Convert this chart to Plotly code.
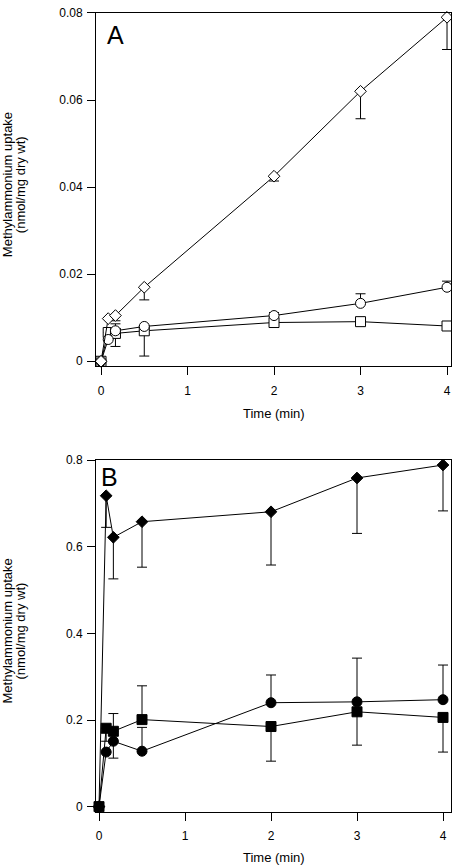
import plotly.graph_objects as go

# ---- data ----
time_min = [0, 0.083, 0.167, 0.5, 2, 3, 4]

# Panel A (open symbols)
a_diamond = [0, 0.0098, 0.0105, 0.0170, 0.0425, 0.0620, 0.0790]
a_diamond_lo = [0, 0, 0.0012, 0.0029, 0.0011, 0.0063, 0.0074]
a_circle = [0, 0.0050, 0.0070, 0.0080, 0.0105, 0.0133, 0.0170]
a_circle_hi = [0, 0, 0.0016, 0, 0.0007, 0.0022, 0.0014]
a_square = [0, 0.0066, 0.0064, 0.0070, 0.0089, 0.0091, 0.0081]
a_square_lo = [0, 0, 0.0030, 0.0058, 0.0004, 0, 0]

# Panel B (filled symbols)
b_diamond = [0, 0.718, 0.622, 0.658, 0.681, 0.759, 0.789]
b_diamond_lo = [0, 0.073, 0.096, 0.105, 0.123, 0.128, 0.106]
b_circle = [0, 0.126, 0.151, 0.128, 0.240, 0.242, 0.247]
b_circle_hi = [0, 0, 0, 0.055, 0.064, 0.101, 0.080]
b_circle_lo = [0, 0, 0.039, 0, 0, 0, 0]
b_square = [0, 0.181, 0.174, 0.201, 0.185, 0.219, 0.206]
b_square_hi = [0, 0, 0.041, 0.078, 0, 0, 0]
b_square_lo = [0, 0.030, 0, 0, 0.080, 0.077, 0.080]

x_ticks = [0, 1, 2, 3, 4]
a_yticks = [0, 0.02, 0.04, 0.06, 0.08]
a_yticklabels = ["0", "0.02", "0.04", "0.06", "0.08"]
b_yticks = [0, 0.2, 0.4, 0.6, 0.8]
b_yticklabels = ["0", "0.2", "0.4", "0.6", "0.8"]

ytitle_line1 = "Methylammonium uptake"
ytitle_line2 = "(nmol/mg dry wt)"
xtitle = "Time (min)"

zeros = [0] * len(time_min)
FONT = "Liberation Sans, Arial, sans-serif"


def trace(y, hi, lo, symbol, size, fill, xa, ya):
    return go.Scatter(
        x=time_min, y=y, mode="lines+markers",
        line=dict(color="black", width=1),
        marker=dict(symbol=symbol, size=size, color=fill,
                    line=dict(color="black", width=1)),
        error_y=dict(type="data", symmetric=False, array=hi, arrayminus=lo,
                     color="black", thickness=1, width=5),
        xaxis=xa, yaxis=ya, showlegend=False, cliponaxis=False,
    )


fig = go.Figure()
fig.add_trace(trace(a_square, zeros, a_square_lo, "square", 10, "white", "x", "y"))
fig.add_trace(trace(a_circle, a_circle_hi, zeros, "circle", 10, "white", "x", "y"))
fig.add_trace(trace(a_diamond, zeros, a_diamond_lo, "diamond", 9, "white", "x", "y"))

fig.add_trace(trace(b_diamond, zeros, b_diamond_lo, "diamond", 9, "black", "x2", "y2"))
fig.add_trace(trace(b_circle, b_circle_hi, b_circle_lo, "circle", 10, "black", "x2", "y2"))
fig.add_trace(trace(b_square, b_square_hi, b_square_lo, "square", 10, "black", "x2", "y2"))

xdom = [96 / 452, 451 / 452]
a_dom = [1 - 363 / 867, 1 - 6 / 867]
b_dom = [1 - 813 / 867, 1 - 458 / 867]

common = dict(showline=True, linecolor="black", linewidth=1, mirror=True,
              ticks="outside", ticklen=8, tickcolor="black", tickwidth=1,
              showgrid=False, zeroline=False,
              tickfont=dict(family=FONT, size=12, color="black"))

fig.update_layout(
    width=452, height=867,
    margin=dict(l=0, r=0, t=0, b=0),
    paper_bgcolor="white", plot_bgcolor="white",
    font=dict(family=FONT, color="black"),
    xaxis=dict(domain=xdom, anchor="y", range=[-0.058, 4.046],
               tickvals=x_ticks, ticklabelstandoff=5, **common),
    yaxis=dict(domain=a_dom, anchor="x", range=[-0.00114, 0.08],
               tickvals=a_yticks, ticktext=a_yticklabels, ticklabelstandoff=2,
               **common),
    xaxis2=dict(domain=xdom, anchor="y2", range=[-0.035, 4.093],
                tickvals=x_ticks, ticklabelstandoff=5, **common),
    yaxis2=dict(domain=b_dom, anchor="x2", range=[-0.0114, 0.8],
                tickvals=b_yticks, ticktext=b_yticklabels, ticklabelstandoff=2,
                **common),
)

ann = []
for dom, label, tx, ty in [(a_dom, "A", 105, 28), (b_dom, "B", 99, 475)]:
    yc = (dom[0] + dom[1]) / 2 + 5 / 867
    for txt, xp in [(ytitle_line1, 7.5), (ytitle_line2, 20.5)]:
        ann.append(dict(text=txt, xref="paper", yref="paper", x=xp / 452,
                        y=yc, textangle=-90, showarrow=False,
                        font=dict(family=FONT, size=13, color="black"),
                        xanchor="center", yanchor="middle"))
    ann.append(dict(text=label, xref="paper", yref="paper", x=tx / 452,
                    y=1 - ty / 867, showarrow=False, xanchor="left",
                    yanchor="middle",
                    font=dict(family=FONT, size=25, color="black")))
for ty in [411, 859]:
    ann.append(dict(text=xtitle, xref="paper", yref="paper", x=274 / 452,
                    y=1 - ty / 867, showarrow=False, xanchor="center",
                    yanchor="middle",
                    font=dict(family=FONT, size=13, color="black")))
fig.update_layout(annotations=ann)

fig.write_html(
    "out.html",
    config={"displayModeBar": False},
    post_script="document.body.style.margin='0px';"
                "document.body.style.overflow='hidden';",
)
